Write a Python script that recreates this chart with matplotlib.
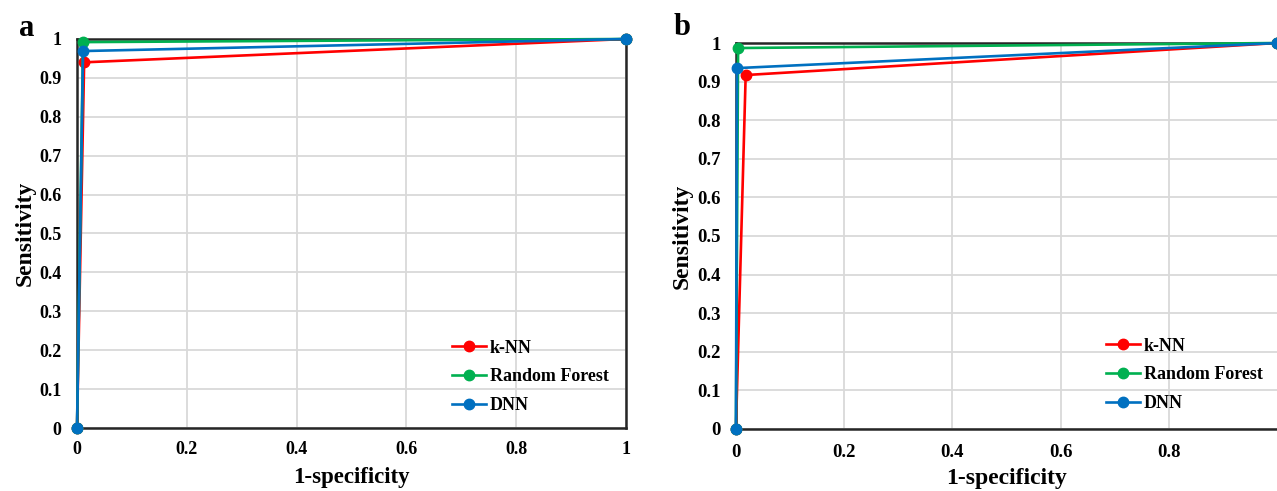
import numpy as np
import matplotlib
matplotlib.use("Agg")
import matplotlib.pyplot as plt
from matplotlib.ticker import FuncFormatter

# ROC points (1-specificity, sensitivity)
knn_a_x = [0, 0.013, 1]
knn_a_y = [0, 0.94, 1]
rf_a_x = [0, 0.011, 1]
rf_a_y = [0, 0.992, 1]
dnn_a_x = [0, 0.011, 1]
dnn_a_y = [0, 0.969, 1]

knn_b_x = [0, 0.018, 1]
knn_b_y = [0, 0.917, 1]
rf_b_x = [0, 0.004, 1]
rf_b_y = [0, 0.987, 1]
dnn_b_x = [0, 0.002, 1]
dnn_b_y = [0, 0.935, 1]

model_names = ['k-NN', 'Random Forest', 'DNN']
model_colors = ['#FF0000', '#00B050', '#0070C0']

y_ticks = np.round(np.arange(0, 1.01, 0.1), 1)

plt.rcParams['font.family'] = ['Liberation Serif', 'DejaVu Serif']
plt.rcParams['font.weight'] = 'bold'

fig = plt.figure(figsize=(12.77, 4.91), dpi=100)
ax_a = fig.add_axes([0.0603, 0.1283, 0.4299, 0.7923])
ax_b = fig.add_axes([0.5763, 0.1263, 0.4237, 0.7861])

fmt = FuncFormatter(lambda v, p: f'{v:g}')

# per panel: axes, letter, series, x ticks, letter pos, legend pos,
# tick size, x tick pad, xlabel size, xlabel pad
panels = [
    (ax_a, 'a', [(knn_a_x, knn_a_y), (rf_a_x, rf_a_y), (dnn_a_x, dnn_a_y)],
     [0, 0.2, 0.4, 0.6, 0.8, 1.0], (-0.092, 1.028), (0.683, 0.036),
     13, 9, 16.5, 7),
    (ax_b, 'b', [(knn_b_x, knn_b_y), (rf_b_x, rf_b_y), (dnn_b_x, dnn_b_y)],
     [0, 0.2, 0.4, 0.6, 0.8], (-0.1, 1.041), (0.684, 0.044),
     13.5, 11, 17, 5),
]

for ax, letter, series, xticks, letter_pos, leg_pos, tsize, tpad, lsize, lpad in panels:
    for (xs, ys), name, col in zip(series, model_names, model_colors):
        ax.plot(xs, ys, color=col, linewidth=1.9, marker='o', markersize=7.5,
                label=name, clip_on=False, zorder=3)
    ax.set_xlim(0, 1)
    ax.set_ylim(0, 1)
    ax.set_xticks(xticks)
    ax.set_yticks(y_ticks)
    ax.xaxis.set_major_formatter(fmt)
    ax.yaxis.set_major_formatter(fmt)
    ax.tick_params(length=0, labelsize=tsize, pad=tpad)
    ax.tick_params(axis='y', pad=11)
    ax.grid(True, color='#d9d9d9', linewidth=1.3)
    ax.set_axisbelow(True)
    for sp in ax.spines.values():
        sp.set_color('#262626')
        sp.set_linewidth(1.8)
    ax.set_xlabel('1-specificity', fontsize=lsize, fontweight='bold', labelpad=lpad)
    ax.set_ylabel('Sensitivity', fontsize=17, fontweight='bold', labelpad=3)
    ax.legend(loc='lower left', bbox_to_anchor=leg_pos, frameon=False,
              fontsize=13, handlelength=1.9, handletextpad=0.2,
              labelspacing=0.65, borderaxespad=0, borderpad=0)
    ax.text(letter_pos[0], letter_pos[1], letter, transform=ax.transAxes,
            fontsize=22, fontweight='bold', ha='center', va='center')

ax_b.spines['right'].set_visible(False)

fig.savefig('out.png', dpi=100)
